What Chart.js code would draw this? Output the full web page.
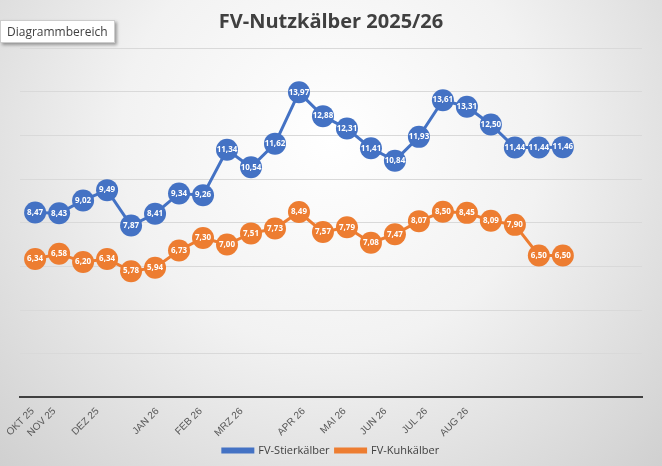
<!DOCTYPE html>
<html lang="de">
<head>
<meta charset="UTF-8" />
<title>FV-Nutzkälber 2025/26</title>
<script src="https://cdn.jsdelivr.net/npm/chart.js"></script>
<style>
  body { margin: 0; width: 662px; height: 466px; overflow: hidden; font-family: "Open Sans", Arial, sans-serif; }
  .wrap { position: relative; width: 662px; height: 466px;
    background: radial-gradient(ellipse at 50% 30%, #ffffff 0%, #f2f2f2 45%, #d0d0d0 100%); }
  .tip { position: absolute; left: 0; top: 20px; padding: 2px 6px; background: #fff; border: 1px solid #ccc;
    box-shadow: 2px 2px 3px rgba(0,0,0,0.35); font-size: 12px; color: #404040; }
</style>
</head>
<body>
<div class="wrap">
  <canvas id="c" width="662" height="466"></canvas>
  <div class="tip">Diagrammbereich</div>
</div>
<script>
const stier = [8.47, 8.43, 9.02, 9.49, 7.87, 8.41, 9.34, 9.26, 11.34, 10.54, 11.62, 13.97, 12.88, 12.31, 11.41, 10.84, 11.93, 13.61, 13.31, 12.50, 11.44, 11.44, 11.46];
const kuh = [6.34, 6.58, 6.20, 6.34, 5.78, 5.94, 6.73, 7.30, 7.00, 7.51, 7.73, 8.49, 7.57, 7.79, 7.08, 7.47, 8.07, 8.50, 8.45, 8.09, 7.90, 6.50, 6.50];
const monthLabels = ["OKT 25", "NOV 25", "DEZ 25", "JAN 26", "FEB 26", "MRZ 26", "APR 26", "MAI 26", "JUN 26", "JUL 26", "AUG 26"];
const monthAt = [-0.1, 0.8, 2.6, 5.1, 6.9, 8.6, 11.2, 12.9, 14.6, 16.3, 18.0];

const toXY = arr => arr.map((y, i) => ({ x: i, y }));

const labelPlugin = {
  id: 'pointLabels',
  afterDatasetsDraw(chart) {
    const ctx = chart.ctx;
    ctx.save();
    ctx.font = 'bold 8px "Open Sans", Arial, sans-serif';
    ctx.fillStyle = '#fff';
    ctx.textAlign = 'center';
    ctx.textBaseline = 'middle';
    chart.data.datasets.forEach((ds, di) => {
      chart.getDatasetMeta(di).data.forEach((pt, i) => {
        ctx.fillText(ds.data[i].y.toFixed(2).replace('.', ','), pt.x, pt.y);
      });
    });
    ctx.restore();
  }
};

new Chart(document.getElementById('c'), {
  type: 'line',
  data: {
    datasets: [
      { label: 'FV-Stierkälber', data: toXY(stier), borderColor: '#4472c4', backgroundColor: '#4472c4',
        borderWidth: 3, pointRadius: 11, pointHoverRadius: 11, pointBorderWidth: 0 },
      { label: 'FV-Kuhkälber', data: toXY(kuh), borderColor: '#ed7d31', backgroundColor: '#ed7d31',
        borderWidth: 3, pointRadius: 11, pointHoverRadius: 11, pointBorderWidth: 0 }
    ]
  },
  options: {
    responsive: false,
    animation: false,
    layout: { padding: { left: 20, right: 20, top: 0, bottom: 0 } },
    plugins: {
      title: { display: true, text: 'FV-Nutzkälber 2025/26', color: '#404040',
        font: { size: 20, weight: 'bold', family: '"Open Sans", Arial, sans-serif' }, padding: { top: 10, bottom: 14 } },
      legend: { position: 'bottom', labels: { color: '#404040', boxWidth: 30, boxHeight: 3, padding: 6,
        font: { size: 11, family: '"Open Sans", Arial, sans-serif' } } },
      tooltip: { enabled: false }
    },
    scales: {
      x: {
        type: 'linear', min: -0.63, max: 25.3,
        grid: { display: false },
        border: { color: '#404040', width: 2 },
        afterBuildTicks: axis => { axis.ticks = monthAt.map(v => ({ value: v })); },
        ticks: { minRotation: 45, maxRotation: 45, color: '#595959', font: { size: 10 }, padding: 0,
          callback: (v) => monthLabels[monthAt.indexOf(v)] }
      },
      y: {
        min: 0, max: 16,
        ticks: { display: false, stepSize: 2 },
        grid: { color: '#d9d9d9', drawTicks: false },
        border: { display: false }
      }
    }
  },
  plugins: [labelPlugin]
});
</script>
</body>
</html>
